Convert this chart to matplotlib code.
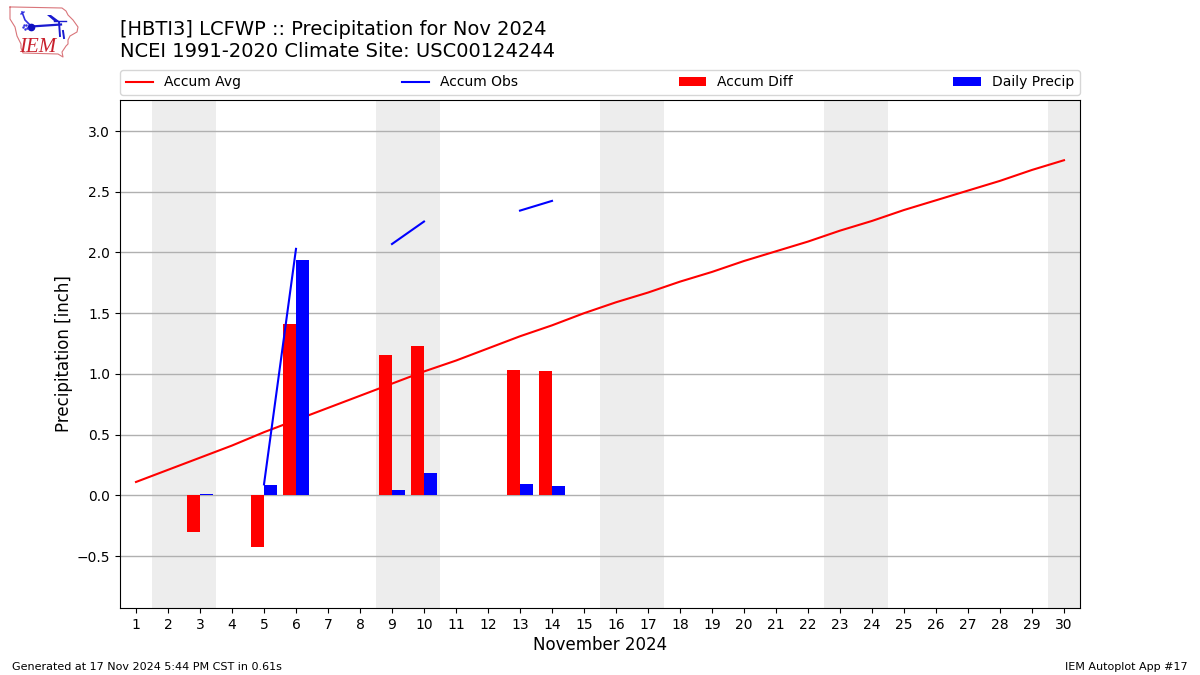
import numpy as np
import matplotlib
matplotlib.use("Agg")
import matplotlib.pyplot as plt

days = list(range(1, 31))
avg = [0.11, 0.21, 0.31, 0.41, 0.52, 0.62, 0.72, 0.82, 0.92, 1.02,
       1.11, 1.21, 1.31, 1.40, 1.50, 1.59, 1.67, 1.76, 1.84, 1.93,
       2.01, 2.09, 2.18, 2.26, 2.35, 2.43, 2.51, 2.59, 2.68, 2.76]
nan = float("nan")
obs = [nan, nan, 0.01, nan, 0.09, 2.03, nan, nan, 2.07, 2.255, nan, nan, 2.345, 2.425] + [nan] * 16
bar_days = [3, 5, 6, 9, 10, 13, 14]
diff = [-0.30, -0.425, 1.41, 1.155, 1.23, 1.03, 1.02]
daily = [0.01, 0.085, 1.94, 0.04, 0.18, 0.09, 0.075]
weekends = [(1.5, 3.5), (8.5, 10.5), (15.5, 17.5), (22.5, 24.5), (29.5, 30.5)]
yticks = [-0.5, 0.0, 0.5, 1.0, 1.5, 2.0, 2.5, 3.0]

W, H = 1200, 675
fig = plt.figure(figsize=(12, 6.75), dpi=100)
ax = fig.add_axes([120 / W, 1 - 608 / H, 960 / W, 508 / H])
ax.set_axisbelow(True)
for a, b in weekends:
    ax.axvspan(a, b, color="#ededed", lw=0, zorder=0)
ax.grid(True, axis="y", color="#b0b0b0", lw=1)

ax.plot(days, avg, color="red", lw=1.5, label="Accum Avg", zorder=2)
ax.plot(days, obs, color="blue", lw=1.5, label="Accum Obs", zorder=2)
x = np.array(bar_days, dtype=float)
ax.bar(x - 0.2, diff, width=0.4, color="red", label="Accum Diff", zorder=1)
ax.bar(x + 0.2, daily, width=0.4, color="blue", label="Daily Precip", zorder=3)

ax.set_xlim(0.5, 30.5)
ax.set_ylim(-0.928, 3.256)
ax.set_xticks(days)
ax.set_yticks(yticks)
ax.tick_params(labelsize=10)
ax.set_xlabel("November 2024", fontsize=12, labelpad=3)
ax.set_ylabel("Precipitation [inch]", fontsize=12, labelpad=3)

ax.legend(loc="lower left", bbox_to_anchor=(0, 1 + 5 / 508, 1, 0.05), mode="expand", ncol=4,
          borderaxespad=0, fontsize=10)

fig.text(120 / W, 1 - 61 / H, "[HBTI3] LCFWP :: Precipitation for Nov 2024\nNCEI 1991-2020 Climate Site: USC00124244",
         fontsize=14, ha="left", va="bottom", linespacing=1.2)
fig.text(12 / W, 1 - 670 / H, "Generated at 17 Nov 2024 5:44 PM CST in 0.61s", fontsize=8, ha="left", va="baseline")
fig.text(1188 / W, 1 - 670 / H, "IEM Autoplot App #17", fontsize=8, ha="right", va="baseline")

# Logo, drawn in pixel space of the reference's top-left corner
lg = fig.add_axes([0, 1 - 70 / H, 130 / W, 70 / H])
lg.set_xlim(0, 130)
lg.set_ylim(70, 0)
lg.axis("off")
lg.patch.set_alpha(0)
outline_x = [10, 13, 62, 66, 68, 73, 78, 77, 70, 68, 68, 66, 62, 63, 58, 23, 21, 21, 17, 15, 10, 10]
outline_y = [7, 7, 8, 11, 15, 20, 27, 32, 36, 40, 44, 46, 52, 57, 54, 53, 48, 44, 36, 27, 19, 7]
lg.plot(outline_x, outline_y, color="#d9757a", lw=0.8)
lg.plot([31, 61], [26.5, 24.5], color="#1a1ad0", lw=1.6)
lg.plot([22, 25, 30], [12, 20, 25], color="#3030e0", lw=1.2)
lg.plot([21, 24], [14, 12], color="#3030e0", lw=1)
lg.plot([59, 60], [22, 36], color="#1a1ad0", lw=1.4)
lg.plot([63, 64], [31, 38], color="#1a1ad0", lw=1.4)
lg.plot([31], [27], "o", color="#1010c0", ms=4.5)
lg.plot([23, 25, 27, 24, 26], [27, 29, 28, 25, 25], ".", color="#3030e0", ms=1.5)
lg.fill([47, 51, 59, 54], [15, 15, 21, 21], color="#1a1ad0", lw=0)
lg.plot([54, 66], [21, 21], color="#1a1ad0", lw=1)
lg.text(38, 52, "IEM", color="#c8202c", fontsize=15, family="Liberation Serif",
        style="italic", ha="center", va="baseline")

fig.savefig("out.png", dpi=100)
